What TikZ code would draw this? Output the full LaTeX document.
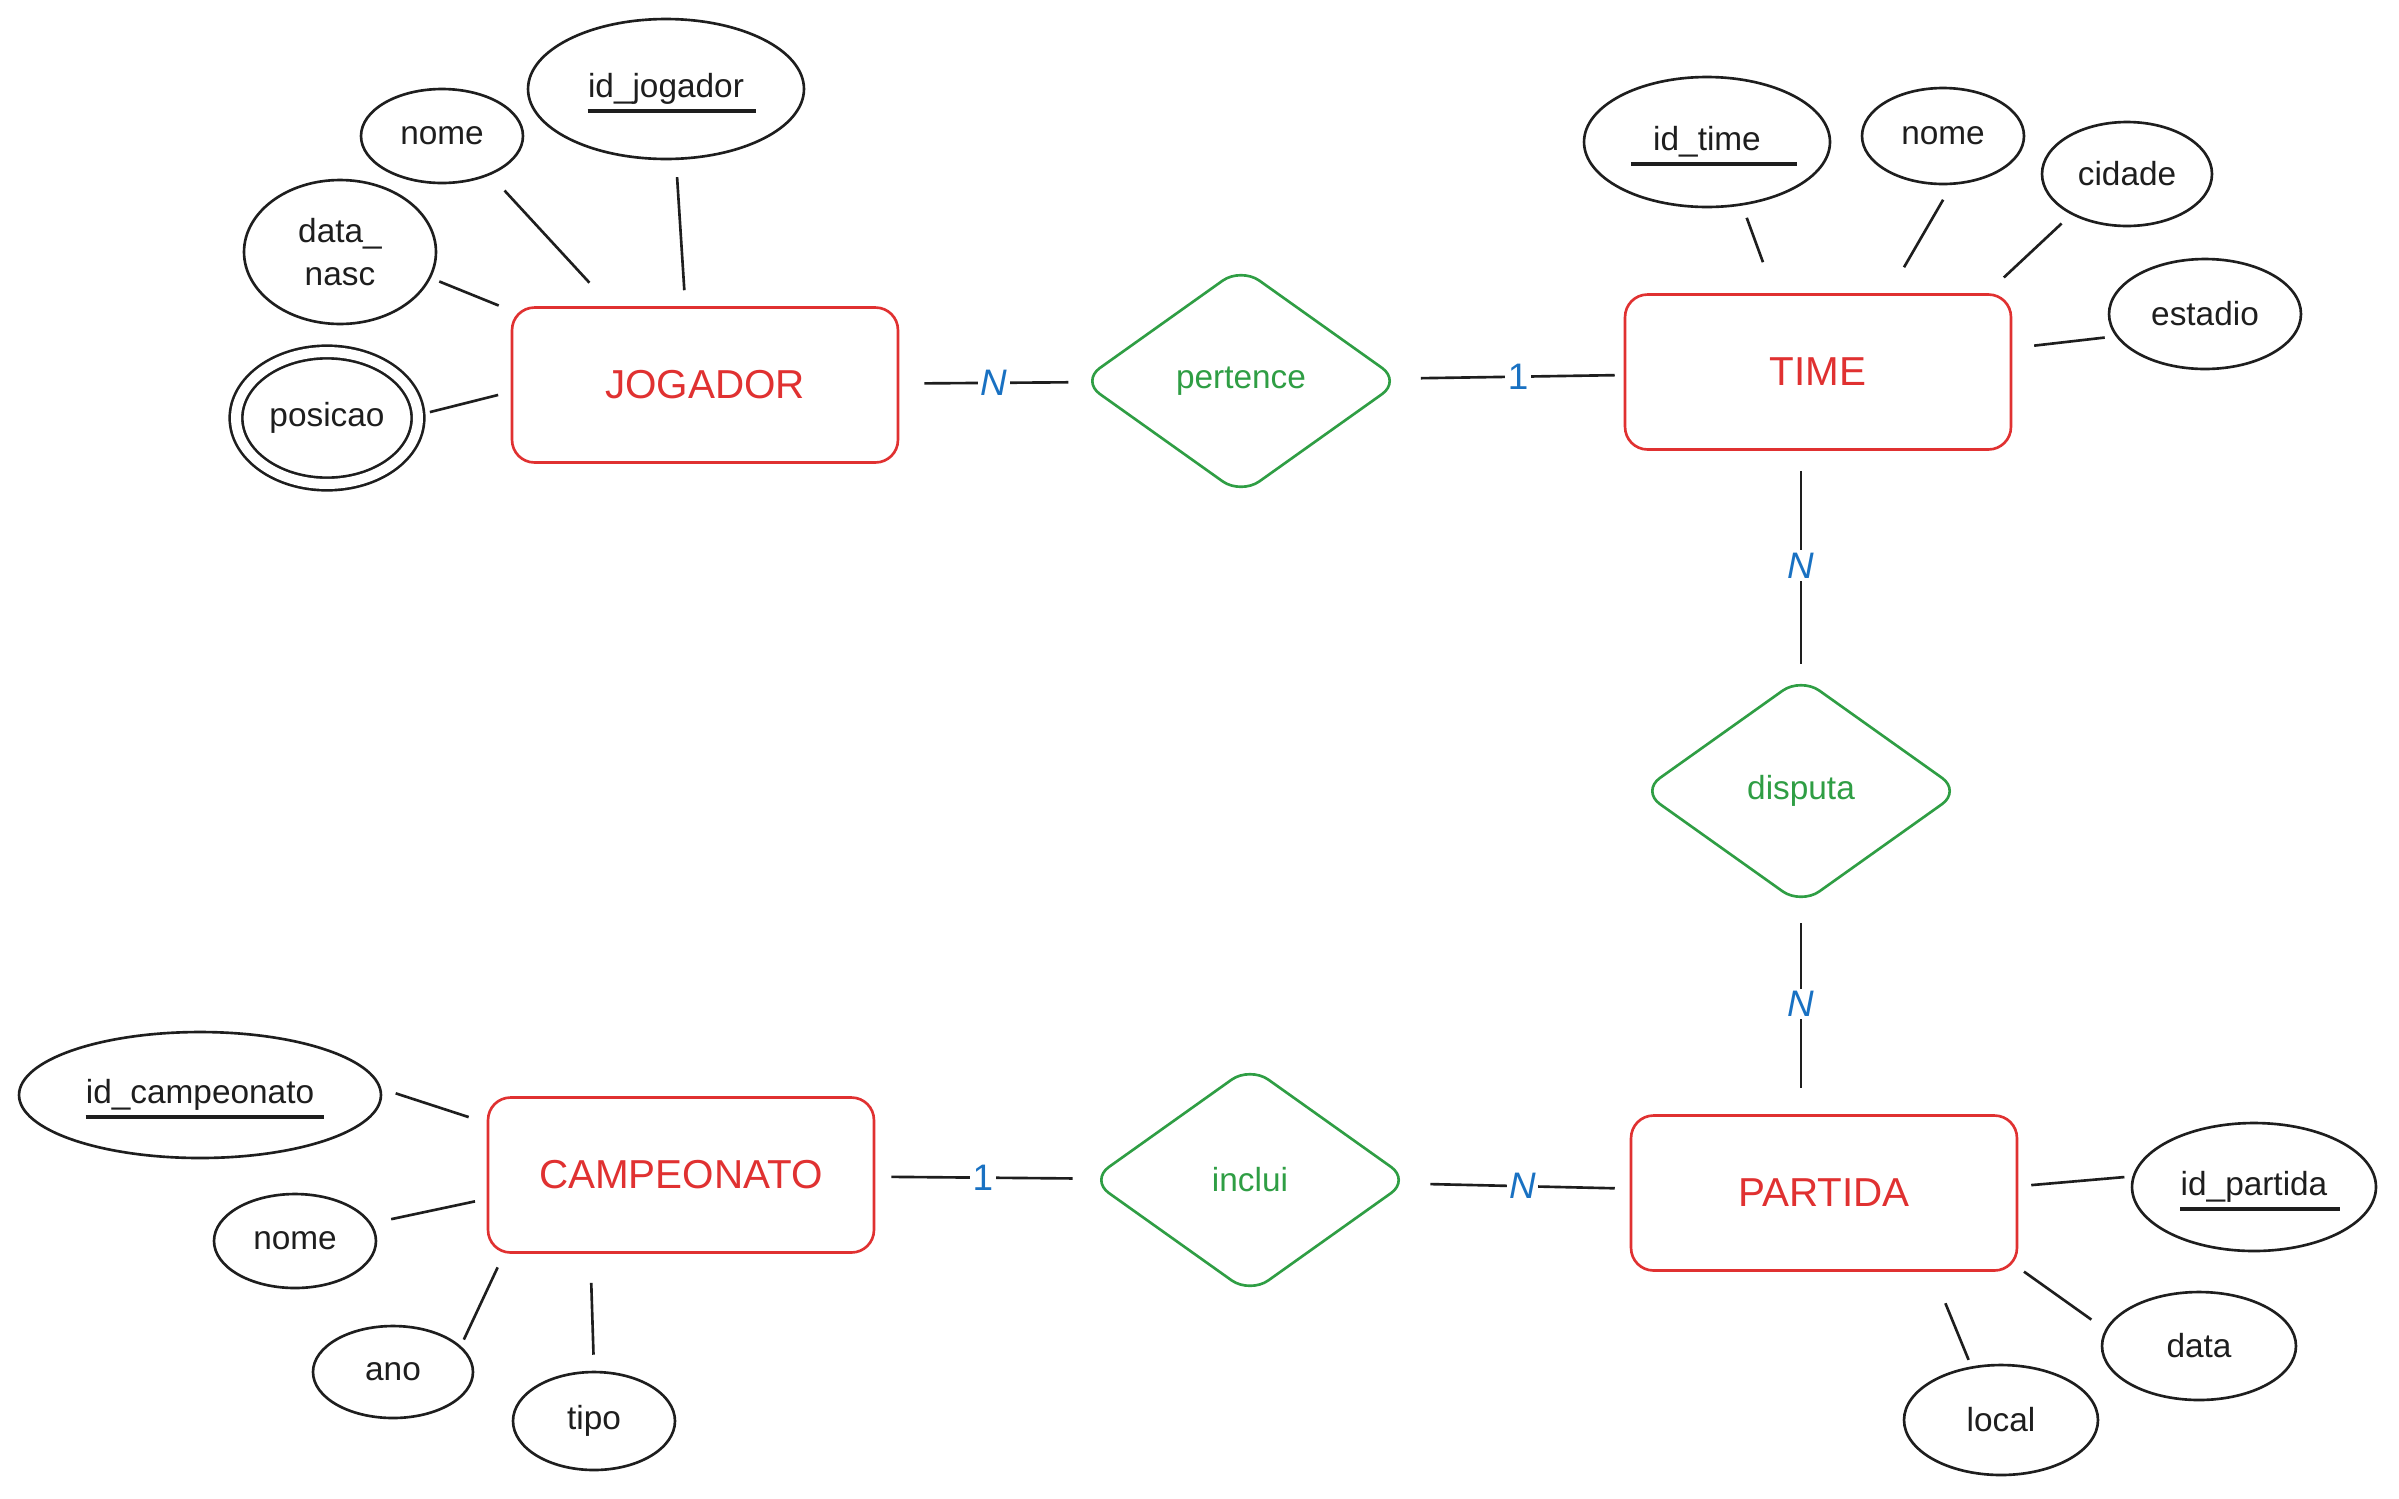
\documentclass[tikz,border=0pt]{standalone}
\usepackage{fontspec}
\setmainfont{Liberation Sans}
\usetikzlibrary{shapes.geometric,calc}
\definecolor{ered}{HTML}{E03131}
\definecolor{rgreen}{HTML}{2F9E44}
\definecolor{cblue}{HTML}{1971C2}
\definecolor{ink}{HTML}{1E1E1E}
\begin{document}
\begin{tikzpicture}[x=0.02cm,y=-0.02cm,
  entity/.style={draw=ered, line width=1.5pt, rounded corners=0.45cm, minimum width=7.72cm, minimum height=3.1cm, inner sep=0pt, text=ered, font=\fontsize{23}{28}\selectfont},
  relation/.style={draw=rgreen, line width=1.5pt, shape=diamond, rounded corners=0.45cm, minimum width=6.4cm, minimum height=4.56cm, inner sep=0pt, text=rgreen, font=\fontsize{19}{23}\selectfont},
  attr/.style={draw=ink, line width=1.5pt, shape=ellipse, inner sep=0pt, text=ink, font=\fontsize{19}{24}\selectfont, align=center},
  esize/.style 2 args={minimum width=#1cm, minimum height=#2cm},
  atext/.style={inner sep=0pt, text=ink, font=\fontsize{19}{24}\selectfont},
  uline/.style={draw=ink, line width=1.8pt},
  aline/.style={draw=ink, line width=1.5pt},
  rline/.style={draw=ink, line width=1.5pt},
  card/.style={fill=white, inner sep=1.5pt, text=cblue, font=\fontsize{21}{25}\selectfont},
  cardn/.style={card, font=\fontsize{21}{25}\selectfont\itshape},
]
\useasboundingbox[fill=white] (0,0) rectangle (2399,1498);

% entities
\node[entity] (jog) at (705,385) {JOGADOR};
\node[entity] (time) at (1818,372) {TIME};
\node[entity] (camp) at (681,1175) {CAMPEONATO};
\node[entity] (part) at (1824,1193) {PARTIDA};

% relationships
\node[relation] (pert) at (1241,381) {pertence};
\node[relation] (disp) at (1801,791) {disputa};
\node[relation] (incl) at (1250,1180) {inclui};

% JOGADOR attributes
\node[attr, esize={5.52}{2.8}] (idj) at (666,89) {};
\node[atext] (idjt) at (idj) {id\_jogador};
\draw[uline] ($(idjt.west)+(0,22)$) -- ($(idjt.east)+(12,22)$);
\node[attr, esize={3.24}{1.88}] (jnome) at (442,136) {nome};
\node[attr, esize={3.84}{2.88}] (jdata) at (340,252) {data\_\\nasc};
\node[attr, esize={3.64}{2.64}, double=white, double distance=0.2cm] (jpos) at (327,418) {posicao};

% TIME attributes
\node[attr, esize={4.92}{2.6}] (idt) at (1707,142) {};
\node[atext] (idtt) at (idt) {id\_time};
\draw[uline] ($(idtt.west)+(-22,22)$) -- ($(idtt.east)+(36,22)$);
\node[attr, esize={3.24}{1.92}] (tnome) at (1943,136) {nome};
\node[attr, esize={3.4}{2.08}] (tcid) at (2127,174) {cidade};
\node[attr, esize={3.84}{2.2}] (test) at (2205,314) {estadio};

% CAMPEONATO attributes
\node[attr, esize={7.24}{2.52}] (idc) at (200,1095) {};
\node[atext] (idct) at (idc) {id\_campeonato};
\draw[uline] ($(idct.west)+(0,22)$) -- ($(idct.east)+(10,22)$);
\node[attr, esize={3.24}{1.88}] (cnome) at (295,1241) {nome};
\node[attr, esize={3.2}{1.84}] (cano) at (393,1372) {ano};
\node[attr, esize={3.24}{1.96}] (ctipo) at (594,1421) {tipo};

% PARTIDA attributes
\node[attr, esize={4.88}{2.56}] (idp) at (2254,1187) {};
\node[atext] (idpt) at (idp) {id\_partida};
\draw[uline] ($(idpt.west)+(0,22)$) -- ($(idpt.east)+(12,22)$);
\node[attr, esize={3.88}{2.16}] (pdata) at (2199,1346) {data};
\node[attr, esize={3.88}{2.2}] (plocal) at (2001,1420) {local};

% attribute connectors
\draw[aline, shorten <=0.34cm, shorten >=0.32cm] (idj.278) -- (jog.104);
\draw[aline, shorten <=0.42cm, shorten >=0.64cm] (jnome.321) -- (jog.140);
\draw[aline, shorten <=0.18cm, shorten >=0.26cm] (jdata.344) -- (jog.159);
\draw[aline, shorten <=0.22cm, shorten >=0.26cm] (jpos.2) -- (jog.182);
\draw[aline, shorten <=0.26cm, shorten >=0.66cm] (idt.299) -- (time.119);
\draw[aline, shorten <=0.34cm, shorten >=0.6cm] (tnome.280) -- (time.48);
\draw[aline, shorten <=0.26cm, shorten >=0.46cm] (tcid.216) -- (time.25);
\draw[aline, shorten <=0.22cm, shorten >=0.44cm] (test.194) -- (time.7);
\draw[aline, shorten <=0.3cm, shorten >=0.38cm] (idc.2) -- (camp.165);
\draw[aline, shorten <=0.4cm, shorten >=0.24cm] (cnome.13) -- (camp.187);
\draw[aline, shorten <=0.14cm, shorten >=0.3cm] (cano.21) -- (camp.204);
\draw[aline, shorten <=0.32cm, shorten >=0.58cm] (ctipo.90) -- (camp.221);
\draw[aline, shorten <=0.16cm, shorten >=0.26cm] (idp.175) -- (part.2);
\draw[aline, shorten <=0.34cm, shorten >=0.14cm] (pdata.170) -- (part.339);
\draw[aline, shorten <=0.14cm, shorten >=0.68cm] (plocal.119) -- (part.324);

% relationship connectors with cardinalities
\draw[rline, shorten <=0.5cm, shorten >=0.26cm] (jog) -- node[cardn, pos=0.52]{N} (pert);
\draw[rline, shorten <=0.44cm, shorten >=0.18cm] (pert) -- node[card, pos=0.53]{1} (time);
\draw[rline, shorten <=0.4cm, shorten >=0.24cm] (time.south -| disp.north) -- node[cardn, pos=0.51]{N} (disp.north);
\draw[rline, shorten <=0.34cm, shorten >=0.52cm] (disp.south) -- node[cardn, pos=0.47]{N} (disp.south |- part.north);
\draw[rline, shorten <=0.32cm, shorten >=0.36cm] (camp) -- node[card, pos=0.5]{1} (incl);
\draw[rline, shorten <=0.48cm, shorten >=0.3cm] (incl) -- node[cardn, pos=0.52]{N} (part);
\end{tikzpicture}
\end{document}
